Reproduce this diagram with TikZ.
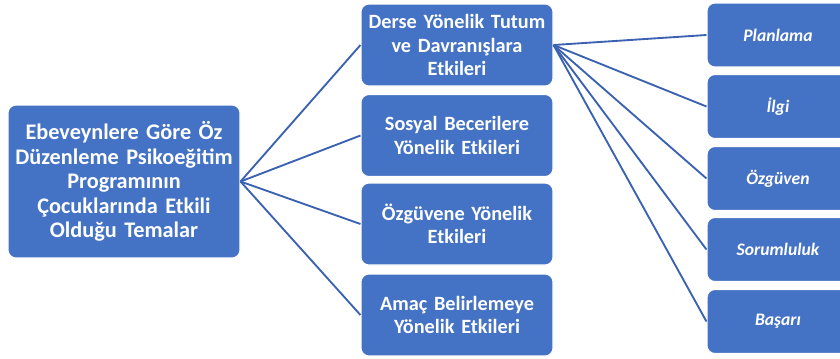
\documentclass[tikz,border=0pt]{standalone}
\usepackage{fontspec}
\setmainfont{Carlito}
\definecolor{boxblue}{HTML}{4472C4}
\definecolor{lineblue}{HTML}{3A62B0}
\begin{document}
\begin{tikzpicture}[x=0.75pt, y=-0.75pt,
    box/.style={draw=white, line width=0.8pt, fill=boxblue, rounded corners=6pt,
        text=white, font=\bfseries, align=center, inner sep=0pt},
    mainbox/.style={box, minimum width=174pt, minimum height=114.75pt, text width=170pt,
        font=\bfseries\fontsize{16.7}{18.4}\selectfont},
    effbox/.style={box, minimum width=144pt, minimum height=61.5pt, text width=140pt,
        font=\bfseries\fontsize{15.2}{17.6}\selectfont},
    subbox/.style={box, minimum width=106.5pt, minimum height=48pt, text width=102pt,
        font=\bfseries\itshape\fontsize{13.2}{15}\selectfont},
    link/.style={draw=lineblue, line width=1.4pt}]
    \useasboundingbox (0,0) rectangle (840,358);

    % Main theme (left)
    \node[mainbox] (Main) at (124,181.5)
        {Ebeveynlere Göre Öz\\Düzenleme Psikoeğitim\\Programının\\Çocuklarında Etkili\\Olduğu Temalar};

    % Effects (middle column)
    \node[effbox] (D1) at (457,45) {Derse Yönelik Tutum\\ve Davranışlara\\Etkileri};
    \node[effbox] (D2) at (457,135.5) {Sosyal Becerilere\\Yönelik Etkileri};
    \node[effbox] (D3) at (457,224) {Özgüvene Yönelik\\Etkileri};
    \node[effbox] (D4) at (457,315) {Amaç Belirlemeye\\Yönelik Etkileri};

    % Sub-themes (right column)
    \node[subbox] (E1) at (778,35) {Planlama};
    \node[subbox] (E2) at (778,106.5) {İlgi};
    \node[subbox] (E3) at (778,178.5) {Özgüven};
    \node[subbox] (E4) at (778,249.5) {Sorumluluk};
    \node[subbox] (E5) at (778,321.5) {Başarı};

    % Connections
    \draw[link] (Main.east) -- (D1.west);
    \draw[link] (Main.east) -- (D2.west);
    \draw[link] (Main.east) -- (D3.west);
    \draw[link] (Main.east) -- (D4.west);
    \draw[link] (D1.east) -- (E1.west);
    \draw[link] (D1.east) -- (E2.west);
    \draw[link] (D1.east) -- (E3.west);
    \draw[link] (D1.east) -- (E4.west);
    \draw[link] (D1.east) -- (E5.west);

\end{tikzpicture}
\end{document}
